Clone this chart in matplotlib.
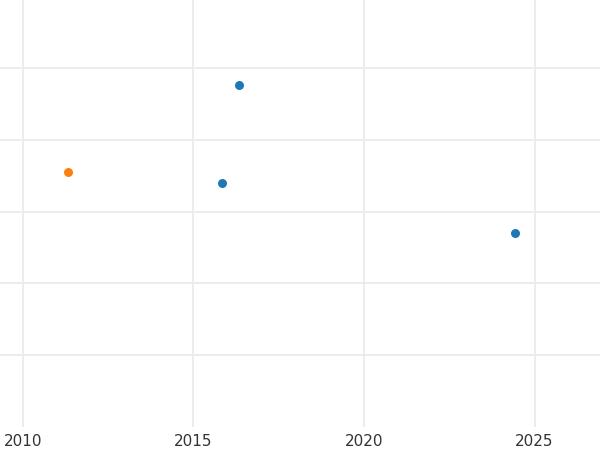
import matplotlib
matplotlib.use("Agg")
import matplotlib.pyplot as plt

# data
blue_x = [2016.33, 2015.84, 2024.43]
blue_y = [4.76, 3.40, 2.70]
orange_x = [2011.32]
orange_y = [3.55]
xticks = [2010, 2015, 2020, 2025]
yticks = [1, 2, 3, 4, 5]

fig = plt.figure(figsize=(6, 4.5), dpi=100)
ax = fig.add_axes([0, 23/450, 1, 427/450])

ax.scatter(blue_x, blue_y, s=42, color="#1f77b4", zorder=3, linewidths=0)
ax.scatter(orange_x, orange_y, s=42, color="#ff7f0e", zorder=3, linewidths=0)

ax.set_xlim(2009.33, 2026.92)
ax.set_ylim(0, 5.95)
ax.set_xticks(xticks)
ax.set_xticklabels([str(t) for t in xticks])
ax.set_yticks(yticks)
ax.set_yticklabels([])
ax.grid(True, color="#ebebeb", linewidth=1.3)
ax.set_axisbelow(True)
for s in ax.spines.values():
    s.set_visible(False)
ax.tick_params(length=0, labelsize=11, labelcolor="#333333", pad=5)

fig.savefig("out.png", dpi=100)
